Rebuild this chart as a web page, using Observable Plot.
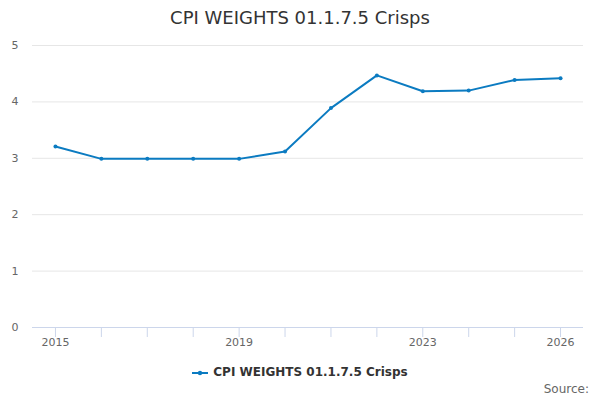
<!DOCTYPE html>
<html>
<head>
<meta charset="utf-8">
<script src="https://cdn.jsdelivr.net/npm/d3@7"></script>
<script src="https://cdn.jsdelivr.net/npm/@observablehq/plot@0.6"></script>
<style>
  body { margin: 0; background: #fff; font-family: "DejaVu Sans", sans-serif; width: 600px; height: 400px; overflow: hidden; position: relative; }
  #title { position: absolute; top: 7px; left: 0; width: 600px; text-align: center; font-size: 18px; color: #333; }
  #chart { position: absolute; top: 36px; left: 0; }
  #legend { position: absolute; top: 365px; left: 0; width: 600px; text-align: center; font-size: 12px; font-weight: bold; color: #333; }
  #legend svg { vertical-align: middle; margin-right: 5px; }
  #source { position: absolute; top: 382px; right: 11px; font-size: 12px; color: #666; }
</style>
</head>
<body>
<div id="title">CPI WEIGHTS 01.1.7.5 Crisps</div>
<div id="chart"></div>
<div id="legend"><svg width="16" height="10"><line x1="0" y1="5" x2="16" y2="5" stroke="#0b7bc1" stroke-width="2"/><circle cx="8" cy="5" r="2.2" fill="#0b7bc1"/></svg><span>CPI WEIGHTS 01.1.7.5 Crisps</span></div>
<div id="source">Source:</div>
<script>
const years = [2015, 2016, 2017, 2018, 2019, 2020, 2021, 2022, 2023, 2024, 2025, 2026];
const values = [3.21, 2.99, 2.99, 2.99, 2.99, 3.12, 3.89, 4.47, 4.19, 4.20, 4.39, 4.42];
const yTicks = [0, 1, 2, 3, 4, 5];
const xLabelYears = [2015, 2019, 2023, 2026];

const data = years.map((y, i) => ({year: y, value: values[i]}));
const color = "#0b7bc1";

const chart = Plot.plot({
  width: 600,
  height: 320,
  marginTop: 9,
  marginBottom: 29,
  marginLeft: 32,
  marginRight: 17,
  style: {fontFamily: "DejaVu Sans, sans-serif", fontSize: "11px", color: "#666", background: "#fff"},
  x: {domain: [2014.5, 2026.5], axis: null, label: null},
  y: {domain: [0, 5], axis: null, label: null},
  marks: [
    Plot.gridY(yTicks.filter(d => d > 0), {stroke: "#e6e6e6", strokeOpacity: 1}),
    Plot.ruleY([0], {stroke: "#ccd6eb"}),
    Plot.axisX(years, {tickSize: 10, tickFormat: () => "", stroke: "#ccd6eb", strokeOpacity: 1, label: null}),
    Plot.axisX(xLabelYears, {tickSize: 0, tickPadding: 11, tickFormat: d => String(d), fill: "#666", fontSize: 11, label: null}),
    Plot.axisY(yTicks, {tickSize: 0, tickPadding: 14, tickFormat: d => String(d), fill: "#666", fontSize: 11, label: null}),
    Plot.line(data, {x: "year", y: "value", stroke: color, strokeWidth: 2}),
    Plot.dot(data, {x: "year", y: "value", fill: color, r: 2})
  ]
});
document.getElementById("chart").appendChild(chart);
</script>
</body>
</html>
